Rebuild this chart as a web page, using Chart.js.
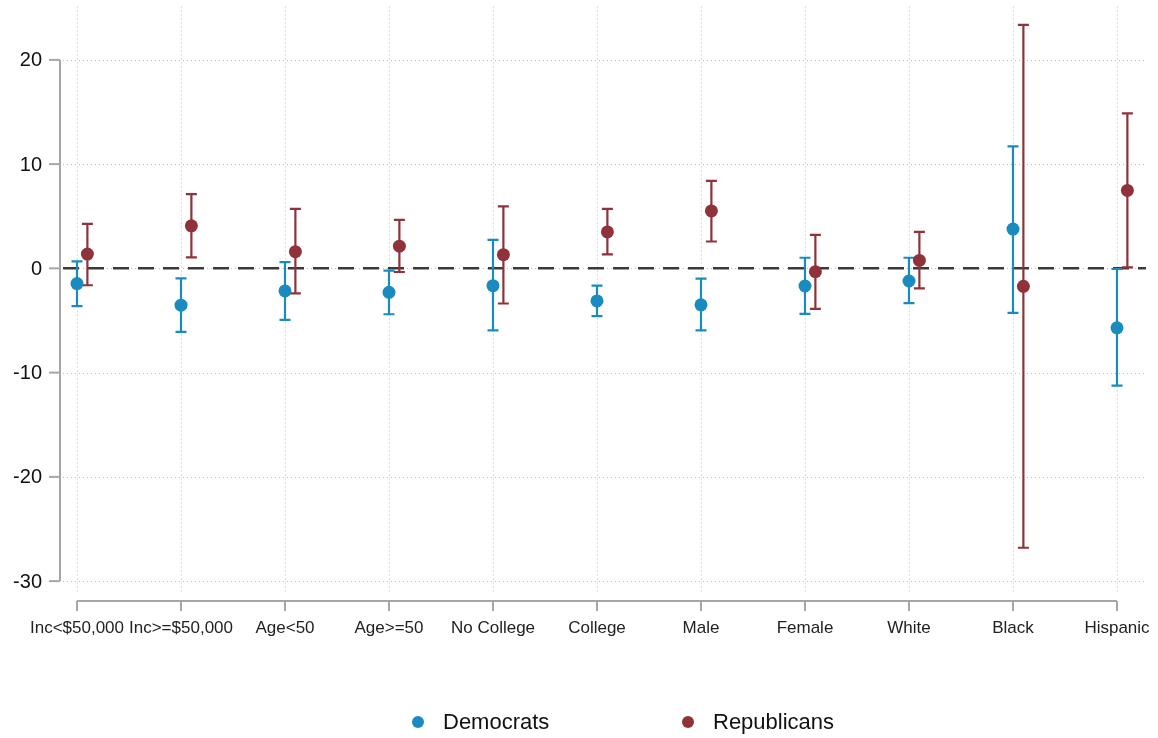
<!DOCTYPE html>
<html><head><meta charset="utf-8">
<script src="https://cdn.jsdelivr.net/npm/chart.js@4"></script>
<style>html,body{margin:0;padding:0;background:#fff}</style>
</head><body>
<canvas id="c" width="1158" height="738"></canvas>
<script>
const categories = ['Inc<$50,000','Inc>=$50,000','Age<50','Age>=50','No College','College','Male','Female','White','Black','Hispanic'];
const demEst = [-1.46,-3.53,-2.16,-2.30,-1.66,-3.12,-3.50,-1.69,-1.21,3.77,-5.70];
const demLo  = [-3.63,-6.10,-4.94,-4.40,-5.95,-4.58,-5.95,-4.36,-3.34,-4.27,-11.24];
const demHi  = [0.67,-0.96,0.60,-0.22,2.74,-1.65,-0.98,1.02,1.02,11.70,-0.06];
const repEst = [1.37,4.08,1.60,2.13,1.31,3.50,5.51,-0.32,0.76,-1.72,7.48];
const repLo  = [-1.62,1.05,-2.40,-0.35,-3.37,1.34,2.58,-3.89,-1.91,-26.80,0.10];
const repHi  = [4.27,7.13,5.70,4.65,5.95,5.70,8.40,3.22,3.50,23.35,14.87];
const yTicks = [20,10,0,-10,-20,-30];
const seriesNames = ['Democrats','Republicans'];

const BLUE = '#1a8bbf', RED = '#8f3239';
const FONT = '"Liberation Sans", Arial, sans-serif';
const OFFSETS = [0, 0.1];

function build(est, lo, hi, off){
  return est.map((v,i)=>({x:i+off, y:v, lo:lo[i], hi:hi[i]}));
}

const custom = {
  id:'custom',
  beforeDatasetsDraw(chart){
    const {ctx, chartArea:a, scales:{x,y}} = chart;
    ctx.save();
    ctx.strokeStyle='#bdbdbd'; ctx.lineWidth=1; ctx.setLineDash([1,3]);
    yTicks.forEach(t=>{
      const py=Math.round(y.getPixelForValue(t))+0.5;
      ctx.beginPath(); ctx.moveTo(a.left,py); ctx.lineTo(a.right,py); ctx.stroke();
    });
    categories.forEach((c,i)=>{
      const px=Math.round(x.getPixelForValue(i))+0.5;
      ctx.beginPath(); ctx.moveTo(px,a.top); ctx.lineTo(px,a.bottom); ctx.stroke();
    });
    ctx.strokeStyle='#3a3a3a'; ctx.lineWidth=2.5; ctx.setLineDash([16,9]);
    const y0=y.getPixelForValue(0);
    ctx.beginPath(); ctx.moveTo(a.left,y0); ctx.lineTo(a.right,y0); ctx.stroke();
    ctx.setLineDash([]);
    chart.data.datasets.forEach(ds=>{
      ctx.strokeStyle=ds.borderColor; ctx.lineWidth=2.2;
      ds.data.forEach(p=>{
        const px=x.getPixelForValue(p.x), pl=y.getPixelForValue(p.lo), ph=y.getPixelForValue(p.hi);
        ctx.beginPath();
        ctx.moveTo(px,pl); ctx.lineTo(px,ph);
        ctx.moveTo(px-5.5,pl); ctx.lineTo(px+5.5,pl);
        ctx.moveTo(px-5.5,ph); ctx.lineTo(px+5.5,ph);
        ctx.stroke();
      });
    });
    ctx.restore();
  },
  afterDraw(chart){
    const {ctx, chartArea:a, scales:{x,y}} = chart;
    ctx.save();
    ctx.strokeStyle='#a6a6a6'; ctx.lineWidth=2;
    const ax = a.left-3;
    ctx.beginPath(); ctx.moveTo(ax,y.getPixelForValue(yTicks[0])); ctx.lineTo(ax,y.getPixelForValue(yTicks[yTicks.length-1])); ctx.stroke();
    ctx.fillStyle='#111'; ctx.font='20px '+FONT; ctx.textAlign='right'; ctx.textBaseline='middle';
    yTicks.forEach(t=>{
      const py=y.getPixelForValue(t);
      ctx.beginPath(); ctx.moveTo(ax-11,py); ctx.lineTo(ax,py); ctx.stroke();
      ctx.fillText(String(t), ax-18, py+1);
    });
    const ay = a.bottom+8;
    ctx.beginPath(); ctx.moveTo(x.getPixelForValue(0),ay); ctx.lineTo(x.getPixelForValue(categories.length-1),ay); ctx.stroke();
    ctx.font='17px '+FONT; ctx.textAlign='center'; ctx.fillStyle='#222';
    categories.forEach((c,i)=>{
      const px=x.getPixelForValue(i);
      ctx.beginPath(); ctx.moveTo(px,ay); ctx.lineTo(px,ay+10); ctx.stroke();
      ctx.fillText(c, px, ay+27);
    });
    const legX=[418,688], legY=722;
    ctx.font='22px '+FONT; ctx.textAlign='left';
    chart.data.datasets.forEach((ds,k)=>{
      ctx.fillStyle=ds.backgroundColor;
      ctx.beginPath(); ctx.arc(legX[k],legY,6,0,Math.PI*2); ctx.fill();
      ctx.fillStyle='#111';
      ctx.fillText(ds.label, legX[k]+25, legY+1);
    });
    ctx.restore();
  }
};

new Chart(document.getElementById('c'), {
  type:'scatter',
  data:{datasets:[
    {label:seriesNames[0], data:build(demEst,demLo,demHi,OFFSETS[0]), backgroundColor:BLUE, borderColor:BLUE, pointRadius:6.5, pointBorderWidth:0},
    {label:seriesNames[1], data:build(repEst,repLo,repHi,OFFSETS[1]), backgroundColor:RED, borderColor:RED, pointRadius:6.5, pointBorderWidth:0}
  ]},
  options:{
    responsive:false, animation:false, devicePixelRatio:1,
    layout:{padding:{left:63,right:12,top:4,bottom:145}},
    plugins:{legend:{display:false}, tooltip:{enabled:false}},
    scales:{
      x:{type:'linear', display:false, min:-0.1346, max:10.279},
      y:{type:'linear', display:false, min:-31.14, max:25.12}
    }
  },
  plugins:[custom]
});
</script>
</body></html>
